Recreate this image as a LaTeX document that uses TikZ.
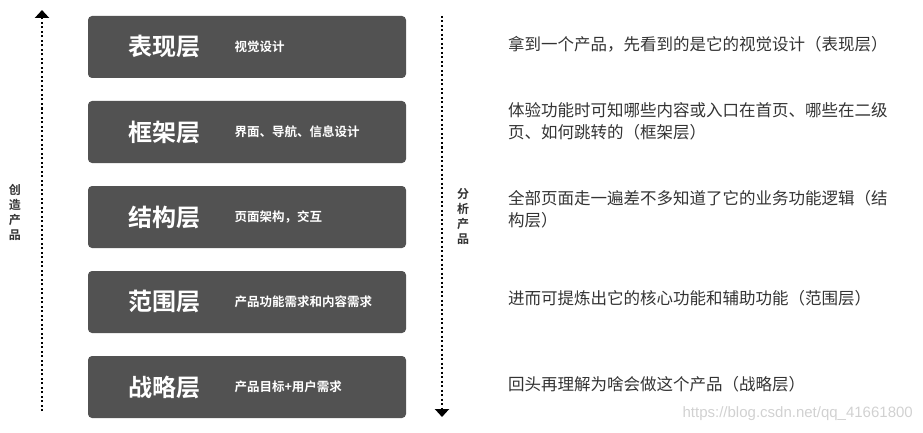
\documentclass[tikz,border=0pt]{standalone}
\usepackage{fontspec}
\newfontfamily\cjk{Noto Sans CJK SC}
\newfontfamily\cjkb{Noto Sans CJK SC Bold}
\usetikzlibrary{arrows.meta}
\definecolor{boxg}{HTML}{525252}
\definecolor{txt}{HTML}{333333}
\tikzset{
  layer/.style={fill=boxg, rounded corners=4pt, minimum width=318pt, minimum height=62pt, inner sep=0pt},
  ttl/.style={text=white, font=\cjkb\fontsize{24}{24}\selectfont, anchor=center},
  sub/.style={text=white, font=\cjkb\fontsize{12.5}{12.5}\selectfont, anchor=west},
  desc/.style={text=txt, font=\cjk\fontsize{16.5}{22}\selectfont, anchor=west, align=left, inner sep=0pt},
  vlab/.style={text=txt, font=\cjkb\fontsize{12}{15}\selectfont, align=center, inner sep=0pt},
  flow/.style={line width=2.4pt, dash pattern=on 2pt off 2.5pt, -{Triangle[length=8pt,width=14pt]}}
}
\begin{document}
\begin{tikzpicture}[x=1pt,y=-1pt]
\useasboundingbox (0,0) rectangle (923,433);
\foreach \n/\t/\s/\y in {a/表现层/视觉设计/47, b/框架层/界面、导航、信息设计/132, c/结构层/页面架构，交互/217, d/范围层/产品功能需求和内容需求/302, e/战略层/产品目标+用户需求/387}{
  \node[layer] (\n) at (247,\y) {};
  \node[ttl] (\n t) at (164,\y) {\t};
  \node[sub] (\n s) at (231,\y) {\s};
}
\coordinate (l0) at (42,411); \coordinate (l1) at (42,10);
\draw[flow] (l0) -- (l1);
\coordinate (r0) at (442,16); \coordinate (r1) at (442,417);
\draw[flow] (r0) -- (r1);
\node[vlab] (lc) at (15,212) {创\\造\\产\\品};
\node[vlab] (rc) at (463,217) {分\\析\\产\\品};
\node[desc] (d1) at (508,44) {拿到一个产品，先看到的是它的视觉设计（表现层）};
\node[desc] (d2) at (508,121) {体验功能时可知哪些内容或入口在首页、哪些在二级\\页、如何跳转的（框架层）};
\node[desc] (d3) at (508,209) {全部页面走一遍差不多知道了它的业务功能逻辑（结\\构层）};
\node[desc] (d4) at (508,298) {进而可提炼出它的核心功能和辅助功能（范围层）};
\node[desc] (d5) at (508,384) {回头再理解为啥会做这个产品（战略层）};
\node[text=black!18, font=\fontspec{Liberation Sans}\fontsize{15}{15}\selectfont, anchor=east, inner sep=0pt] (wm) at (913,414) {https://blog.csdn.net/qq\_41661800};
\end{tikzpicture}
\end{document}
